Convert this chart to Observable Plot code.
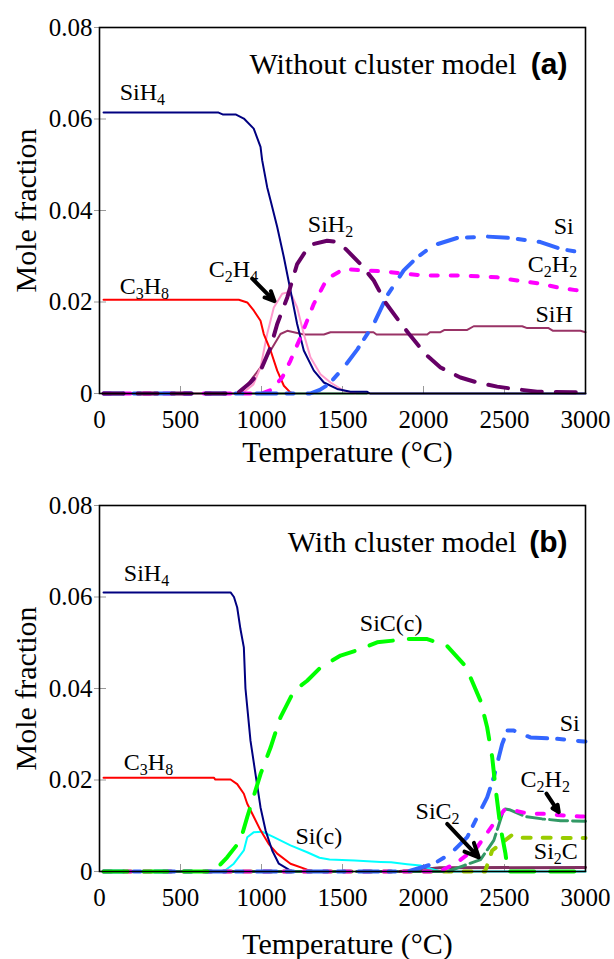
<!DOCTYPE html>
<html><head><meta charset="utf-8">
<script src="https://cdn.jsdelivr.net/npm/d3@7"></script>
<script src="https://cdn.jsdelivr.net/npm/@observablehq/plot@0.6"></script>
<style>
html,body{margin:0;padding:0;background:#fff;}
#chart svg{display:block;}
#chart svg text{font-family:"Liberation Serif","Times New Roman",serif;}
#chart svg text.tag{font-family:"Liberation Sans",Arial,sans-serif;}
</style></head><body><div id="chart"></div>
<script>
// ---------- axis ticks ----------
const xTicks = [0, 500, 1000, 1500, 2000, 2500, 3000];
const yTicks = [0, 0.02, 0.04, 0.06, 0.08];

// ---------- panel (a): without cluster model  [temperature °C, mole fraction] ----------
const a_SiH4 = [[25,0.0614],[735,0.0614],[760,0.0610],[840,0.0610],[891,0.0601],[952,0.0579],[994,0.0539],[1004,0.0510],[1035,0.0451],[1056,0.0422],[1097,0.0364],[1138,0.0298],[1179,0.0225],[1220,0.0152],[1261,0.0094],[1323,0.0050],[1385,0.0024],[1467,0.0010],[1549,0.0004],[1650,0.0004],[1670,0],[3000,0]];
const a_C3H8 = [[25,0.0205],[860,0.0205],[912,0.0199],[953,0.0181],[994,0.0159],[1014,0.0130],[1056,0.0094],[1097,0.0050],[1138,0.0017],[1179,0.0002],[1200,0]];
const a_C2H4 = [[880,0],[950,0.0020],[994,0.0057],[1035,0.0130],[1076,0.0188],[1128,0.0218],[1160,0.0221],[1190,0.0212],[1220,0.0188],[1261,0.0130],[1302,0.0079],[1364,0.0042],[1426,0.0024],[1508,0.0006],[1580,0]];
const a_SiH = [[25,0],[870,0],[932,0.0028],[994,0.0057],[1056,0.0094],[1117,0.0130],[1159,0.0137],[1200,0.0134],[1261,0.0129],[1385,0.0129],[1426,0.0134],[1691,0.0134],[1710,0.0129],[2023,0.0129],[2040,0.0134],[2105,0.0134],[2130,0.0139],[2270,0.0139],[2310,0.0147],[2609,0.0147],[2640,0.0143],[2772,0.0143],[2800,0.0137],[2969,0.0137],[3000,0.0134]];
const a_SiH2 = [[25,0],[850,0],[932,0.0024],[994,0.0050],[1056,0.0101],[1097,0.0152],[1159,0.0210],[1220,0.0283],[1280,0.0315],[1323,0.0327],[1405,0.0334],[1450,0.0332],[1519,0.0316],[1611,0.0283],[1693,0.0247],[1765,0.0199],[1848,0.0159],[1920,0.0126],[2012,0.0086],[2105,0.0057],[2228,0.0035],[2331,0.0024],[2455,0.0015],[2558,0.0010],[2702,0.0004],[2928,0.0003],[3000,0.0003]];
const a_C2H2 = [[25,0],[1000,0],[1060,0.0008],[1128,0.0035],[1179,0.0072],[1241,0.0123],[1323,0.0196],[1405,0.0251],[1508,0.0272],[1631,0.0269],[1755,0.0267],[1878,0.0262],[2002,0.0258],[2228,0.0258],[2455,0.0254],[2578,0.0247],[2722,0.0240],[2825,0.0232],[2938,0.0226],[3000,0.0224]];
const a_Si = [[25,0],[1300,0],[1360,0.0008],[1415,0.0020],[1508,0.0057],[1591,0.0096],[1693,0.0152],[1775,0.0214],[1878,0.0269],[1961,0.0298],[2064,0.0324],[2208,0.0340],[2393,0.0343],[2537,0.0340],[2722,0.0331],[2846,0.0316],[2959,0.0309],[3000,0.0307]];
const a_minor = [[880,0],[1650,0]];

// ---------- panel (b): with cluster model ----------
const b_SiH4 = [[25,0.0610],[809,0.0610],[830,0.0600],[850,0.0577],[870,0.0530],[891,0.0490],[901,0.0400],[932,0.0286],[963,0.0213],[994,0.0140],[1025,0.0090],[1066,0.0046],[1107,0.0017],[1179,0.0002],[1200,0]];
const b_C3H8 = [[25,0.0205],[706,0.0205],[715,0.0201],[809,0.0201],[850,0.0191],[891,0.0170],[912,0.0148],[953,0.0119],[994,0.0090],[1045,0.0060],[1097,0.0039],[1179,0.0017],[1282,0.0004],[1330,0]];
const b_SiCc = [[25,0],[706,0],[788,0.0031],[870,0.0068],[912,0.0119],[994,0.0213],[1056,0.0271],[1117,0.0337],[1179,0.0380],[1200,0.0395],[1282,0.0417],[1364,0.0446],[1488,0.0472],[1611,0.0486],[1714,0.0501],[1899,0.0508],[2023,0.0508],[2146,0.0493],[2249,0.0453],[2290,0.0424],[2352,0.0373],[2393,0.0315],[2424,0.0250],[2444,0.0184],[2475,0.0097],[2506,0.0039],[2520,0],[3000,0]];
const b_Sic = [[25,0],[767,0],[829,0.0017],[891,0.0046],[912,0.0075],[953,0.0086],[1004,0.0087],[1076,0.0075],[1179,0.0057],[1282,0.0042],[1358,0.0030],[1420,0.0026],[1575,0.0024],[1735,0.0021],[1800,0.0020],[1899,0.0016],[1981,0.0013],[2043,0.0006],[2105,0],[3000,0]];
const b_Si = [[25,0],[1900,0],[1950,0.0005],[2064,0.0017],[2167,0.0039],[2270,0.0075],[2341,0.0126],[2393,0.0162],[2434,0.0206],[2465,0.0250],[2486,0.0279],[2517,0.0308],[2558,0.0308],[2660,0.0293],[2825,0.0290],[2990,0.0284],[3000,0.0284]];
const b_C2H2 = [[25,0],[2100,0],[2208,0.0020],[2331,0.0053],[2414,0.0095],[2455,0.0115],[2500,0.0135],[2578,0.0132],[2640,0.0127],[2743,0.0126],[2846,0.0123],[2969,0.0120],[3000,0.0120]];
const b_SiC2 = [[25,0],[2150,0],[2249,0.0013],[2352,0.0026],[2434,0.0068],[2465,0.0102],[2496,0.0137],[2530,0.0135],[2630,0.0120],[2733,0.0115],[2846,0.0111],[3000,0.0110]];
const b_Si2C = [[25,0],[2380,0],[2424,0.0046],[2547,0.0080],[2600,0.0074],[3000,0.0073]];
const b_SiH = [[1850,0],[1950,0.0003],[2100,0.0008],[3000,0.0009]];

// ---------- annotation labels ----------
const a_labels = [["SiH_4",125,0.0641],["C_3H_8",125,0.0218],["C_2H_4",675,0.0254],["SiH_2",1286,0.0353],["Si",2804,0.0348],["C_2H_2",2644,0.0265],["SiH",2691,0.0156]];
const a_arrows = [[943,0.0251,1080,0.0202]];
const b_labels = [["SiH_4",150,0.0635],["C_3H_8",150,0.0221],["SiC(c)",1607,0.0526],["Si(c)",1210,0.0060],["Si",2841,0.0308],["C_2H_2",2599,0.0184],["SiC_2",1951,0.0115],["Si_2C",2681,0.0028]];
const b_arrows = [[2759,0.0170,2835,0.0130],[2146,0.0104,2341,0.0031]];

const serif = "Liberation Serif";
const fmtY = d => d === 0 ? "0" : d.toFixed(2);

function line(data, stroke, strokeWidth, dash) {
  return Plot.line(data, {x: d => d[0], y: d => d[1], stroke, strokeWidth, strokeDasharray: dash, strokeLinejoin: "round"});
}

function panel({lines, labels, arrows, title, tag, height, marginTop, marginBottom, xLabelDy}) {
  const svg = Plot.plot({
    width: 614, height, marginTop, marginBottom, marginLeft: 99, marginRight: 29,
    style: "font-family: 'Liberation Serif', serif; font-size: 25px; background: white; overflow: visible;",
    x: {domain: [0, 3000]},
    y: {domain: [0, 0.08]},
    marks: [
      Plot.axisX(xTicks, {tickSize: -7, tickFormat: () => "", stroke: "#999", label: null}),
      Plot.axisX(xTicks, {tickSize: 0, tickPadding: 17, tickFormat: d => String(d), label: null, fill: "black", fontSize: 25, fontFamily: serif}),
      Plot.axisY(yTicks, {tickSize: -7, tickFormat: () => "", stroke: "#999", label: null}),
      Plot.axisY(yTicks, {tickSize: 5, tickFormat: () => "", stroke: "#999", label: null}),
      Plot.axisY(yTicks, {tickSize: 0, tickPadding: 7, tickFormat: fmtY, label: null, fill: "black", fontSize: 25, fontFamily: serif}),
      ...lines,
      Plot.frame({stroke: "black", strokeWidth: 1.6}),
      Plot.text(labels, {x: d => d[1], y: d => d[2], text: d => d[0], textAnchor: "start", lineAnchor: "bottom", fontSize: 24, fill: "black", fontFamily: serif}),
      Plot.arrow(arrows, {x1: d => d[0], y1: d => d[1], x2: d => d[2], y2: d => d[3], stroke: "black", strokeWidth: 4, headLength: 14, headAngle: 50}),
      Plot.text([title], {text: d => d, frameAnchor: "top-right", dx: -69, dy: 46, textAnchor: "end", lineAnchor: "bottom", fontSize: 30, fill: "black", fontFamily: serif}),
      Plot.text([tag], {text: d => d, frameAnchor: "top-right", dx: -18, dy: 46, textAnchor: "end", lineAnchor: "bottom", fontSize: 30, fontWeight: "bold", fontFamily: "Liberation Sans", fill: "black"}),
      Plot.text(["Temperature (°C)"], {text: d => d, frameAnchor: "bottom", dx: 5, dy: xLabelDy, textAnchor: "middle", lineAnchor: "bottom", fontSize: 30, fill: "black", fontFamily: serif}),
      Plot.text(["Mole fraction"], {text: d => d, frameAnchor: "left", dx: -64, rotate: -90, textAnchor: "middle", lineAnchor: "bottom", fontSize: 30, fill: "black", fontFamily: serif})
    ]
  });
  // chemical subscripts
  d3.select(svg).selectAll("text").each(function() {
    const t = this.textContent;
    if (!t.includes("_")) return;
    const el = d3.select(this);
    el.text(null);
    const parts = t.split(/_(\d)/);
    let down = false;
    parts.forEach((p, i) => {
      if (i % 2 === 1) { el.append("tspan").attr("font-size", 16).attr("dy", 5).text(p); down = true; }
      else if (p) { el.append("tspan").attr("dy", down ? -5 : null).text(p); down = false; }
    });
  });
  // bold sans tag
  d3.select(svg).selectAll("text").filter(function() { return /^\([ab]\)$/.test(this.textContent); })
    .attr("class", "tag").style("font-family", "'Liberation Sans', Arial, sans-serif");
  return svg;
}

const topPanel = panel({
  lines: [
    line(a_minor, "#2e9e57", 2),
    line(a_SiH, "#993366", 2),
    line(a_C2H4, "#ff99cc", 2),
    line(a_C3H8, "#ff0000", 2),
    line(a_SiH4, "#000080", 2),
    line(a_C2H2, "#ff00ff", 4, "7,13"),
    line(a_Si, "#3366ff", 4, "20,10,7,14"),
    line(a_SiH2, "#660066", 4, "20,14")
  ],
  labels: a_labels, arrows: a_arrows, title: "Without cluster model", tag: "(a)",
  height: 480, marginTop: 27, marginBottom: 87, xLabelDy: 68
});

const bottomPanel = panel({
  lines: [
    line(b_SiH, "#803060", 3),
    line(b_Sic, "#00ffff", 2),
    line(b_C3H8, "#ff0000", 2),
    line(b_SiH4, "#000080", 2),
    line(b_Si2C, "#99cc00", 4, "8,12"),
    line(b_SiC2, "#339966", 3, "18,5"),
    line(b_C2H2, "#ff00ff", 4, "7,13"),
    line(b_Si, "#3366ff", 4, "20,10,7,14"),
    line(b_SiCc, "#00ff00", 4, "24,16")
  ],
  labels: b_labels, arrows: b_arrows, title: "With cluster model", tag: "(b)",
  height: 479, marginTop: 25, marginBottom: 88, xLabelDy: 82
});

document.getElementById("chart").append(topPanel, bottomPanel);
</script>
</body></html>
